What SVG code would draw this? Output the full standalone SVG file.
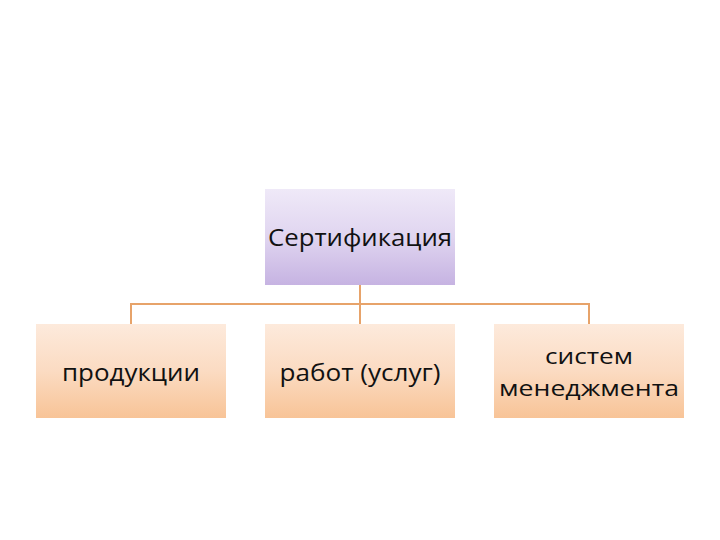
<svg xmlns="http://www.w3.org/2000/svg" width="720" height="540" viewBox="0 0 720 540">
<defs>
<linearGradient id="gTop" x1="0" y1="0" x2="0" y2="1">
<stop offset="0" stop-color="#EFE9F8"/>
<stop offset="0.5" stop-color="#E0D5F0"/>
<stop offset="1" stop-color="#C6B3E2"/>
</linearGradient>
<linearGradient id="gBot" x1="0" y1="0" x2="0" y2="1">
<stop offset="0" stop-color="#FDEADC"/>
<stop offset="0.5" stop-color="#FBDBC2"/>
<stop offset="1" stop-color="#F8C497"/>
</linearGradient>
<style>
.lbl{font-family:"Open Sans","Liberation Sans",sans-serif;font-size:24px;fill:#111;text-anchor:middle}
.sm{font-size:22px}
.conn{stroke:#E7A36A;stroke-width:2;fill:none}
</style>
</defs>
<rect width="720" height="540" fill="#fff"/>
<g id="connectors">
<path class="conn" d="M360 285 V304 M131 324 V304 H589 V324 M360 304 V324"/>
</g>
<g id="n-cert">
<rect x="265" y="189" width="190" height="96" fill="url(#gTop)"/>
<text class="lbl" x="360" y="246" textLength="184" lengthAdjust="spacingAndGlyphs">Сертификация</text>
</g>
<g id="n-prod">
<rect x="36" y="324" width="190" height="94" fill="url(#gBot)"/>
<text class="lbl" x="131" y="381" textLength="138" lengthAdjust="spacingAndGlyphs">продукции</text>
</g>
<g id="n-work">
<rect x="265" y="324" width="190" height="94" fill="url(#gBot)"/>
<text class="lbl" x="360" y="381" textLength="161" lengthAdjust="spacingAndGlyphs">работ (услуг)</text>
</g>
<g id="n-sys">
<rect x="494" y="324" width="190" height="94" fill="url(#gBot)"/>
<text class="lbl sm" x="589" y="364" textLength="88" lengthAdjust="spacingAndGlyphs">систем</text>
<text class="lbl sm" x="589" y="396" textLength="180" lengthAdjust="spacingAndGlyphs">менеджмента</text>
</g>
</svg>
